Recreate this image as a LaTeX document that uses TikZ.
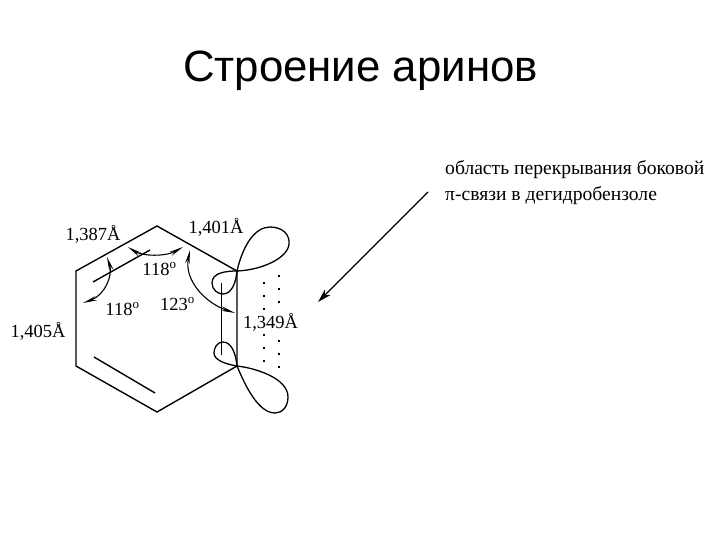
\documentclass[tikz,border=0pt]{standalone}
\usepackage{fontspec}
\setmainfont{Liberation Serif}
\newfontfamily\titlefont{Liberation Sans}
\usetikzlibrary{arrows.meta}

\tikzset{
    bond/.style={line width=1.4pt},
    orbital/.style={line width=1.3pt},
    angle/.style={line width=1.1pt, {Stealth[length=14pt,width=4.5pt]}-{Stealth[length=14pt,width=4.5pt]}},
    overlap/.style={line width=1.3pt, dash pattern=on 1.5pt off 11.5pt},
    dist/.style={inner sep=0pt, font=\fontsize{18.5}{22}\selectfont},
    caption/.style={inner sep=0pt, anchor=west, font=\fontsize{19.6}{23}\selectfont},
}

\begin{document}
\begin{tikzpicture}[x=1pt, y=-1pt]
    \useasboundingbox (0,0) rectangle (720,540);
    \fill[white] (0,0) rectangle (720,540);

    \node[inner sep=0pt, font=\titlefont\fontsize{43.8}{52}\selectfont] (title) at (360.5,71) {Строение аринов};

    % ring
    \coordinate (c1) at (237,271);
    \coordinate (c2) at (237,366);
    \coordinate (c3) at (157,412);
    \coordinate (c4) at (76,366);
    \coordinate (c5) at (76,271);
    \coordinate (c6) at (157,226);
    \draw[bond] (c1) -- (c2) -- (c3) -- (c4) -- (c5) -- (c6) -- cycle;

    \coordinate (i1) at (94,357);
    \coordinate (i2) at (155,393);
    \coordinate (i3) at (93,282);
    \coordinate (i4) at (150,250);
    \coordinate (i5) at (221,283);
    \coordinate (i6) at (221,355);
    \draw[bond] (i1) -- (i2);
    \draw[bond] (i3) -- (i4);
    \draw[line width=0.8pt] (i5) -- (i6);

    % lobes
    \draw[orbital] (c1) .. controls (243,245) and (255,227) .. (270,227)
        .. controls (283,227) and (290,235) .. (289,244)
        .. controls (288,258) and (262,270) .. (c1);
    \draw[orbital] (c1) .. controls (225,271) and (212,273) .. (212,283)
        .. controls (212,290) and (218,294) .. (223,294)
        .. controls (232,294) and (236,282) .. (c1);
    \draw[orbital] (c2) .. controls (236,355) and (232,342) .. (223,342)
        .. controls (217,342) and (214,348) .. (214,353)
        .. controls (214,360) and (225,364) .. (c2);
    \draw[orbital] (c2) .. controls (255,368) and (288,378) .. (288,397)
        .. controls (288,407) and (282,413) .. (275,413)
        .. controls (258,413) and (245,385) .. (c2);

    \coordinate (d1) at (264,282);
    \coordinate (d2) at (264,362);
    \coordinate (d3) at (279,275);
    \coordinate (d4) at (279,370);
    \draw[overlap] (d1) -- (d2);
    \draw[overlap] (d3) -- (d4);

    % angles
    \coordinate (a1) at (128,247);
    \coordinate (a2) at (183,247);
    \coordinate (a3) at (107,257);
    \coordinate (a4) at (83,303);
    \coordinate (a5) at (190,250);
    \coordinate (a6) at (235,313);
    \draw[angle] (a1) .. controls (142,256) and (165,257) .. (a2);
    \draw[angle] (a3) .. controls (113,275) and (105,295) .. (a4);
    \draw[angle] (a5) .. controls (184,280) and (205,303) .. (a6);

    \node[dist] (l1) at (93,234) {1,387Å};
    \node[dist] (l2) at (216,227) {1,401Å};
    \node[dist] (l3) at (38,331) {1,405Å};
    \node[dist, fill=white] (l4) at (270.5,322) {1,349Å};
    \node[dist] (t1) at (159.5,269) {118\textsuperscript{o}};
    \node[dist] (t2) at (122.5,309) {118\textsuperscript{o}};
    \node[dist] (t3) at (177.5,304) {123\textsuperscript{o}};

    \node[caption] (cap1) at (445,170) {область перекрывания боковой};
    \node[caption] (cap2) at (445,196) {π-связи в дегидробензоле};

    \coordinate (p1) at (428,192);
    \coordinate (p2) at (318,302);
    \draw[line width=1.2pt, -{Stealth[length=14pt,width=8pt]}] (p1) -- (p2);
\end{tikzpicture}
\end{document}
